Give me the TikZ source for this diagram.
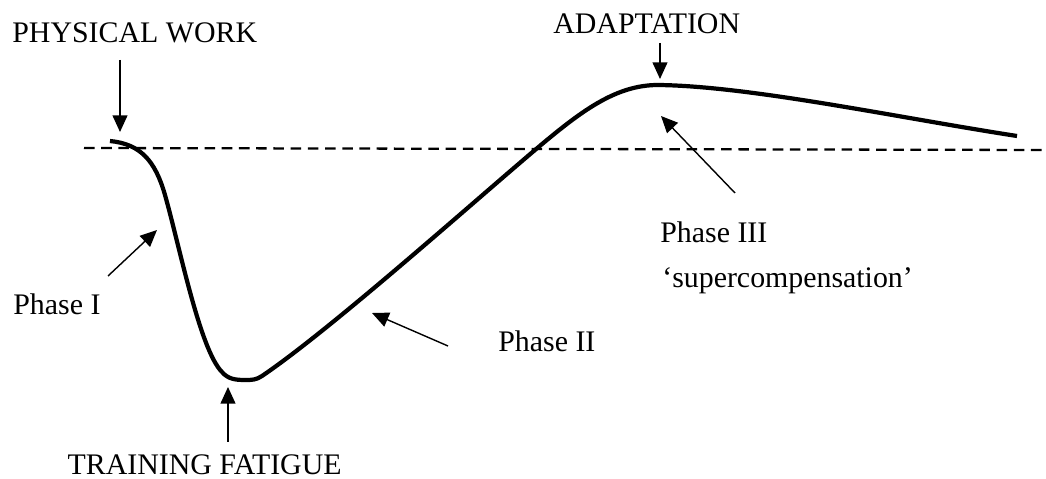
\documentclass[tikz,border=0pt]{standalone}
\usepackage{fontspec}
\setmainfont{Liberation Serif}
\usepackage{tikz}
\usetikzlibrary{arrows.meta, positioning}

\begin{document}
\begin{tikzpicture}[
  x=0.02cm, y=-0.02cm,
  lbl/.style={inner sep=0pt, anchor=base west, font=\fontsize{17}{20}\selectfont},
  pointer/.style={line width=0.8pt, -{Triangle[length=9.5pt, width=8.5pt]}},
  baseline/.style={line width=1.3pt, dash pattern=on 6pt off 3.8pt},
  response/.style={line width=2.4pt, line join=round}
]
  \useasboundingbox (0,0) rectangle (1046,479);

  % reference level
  \coordinate (ref0) at (84,148);
  \coordinate (ref1) at (1046,150);
  \draw[baseline] (ref0) -- (ref1);

  % response curve
  \coordinate (start) at (110,141);
  \coordinate (low) at (245,380);
  \coordinate (cross) at (535,150);
  \coordinate (peak) at (658,85);
  \coordinate (finish) at (1017,136);
  \draw[response] (start) .. controls (140,144) and (155,160) .. (165,195)
    .. controls (180,248) and (200,350) .. (222,372)
    .. controls (228,379) and (235,380) .. (low)
    .. controls (252,380) and (256,380) .. (262,376)
    .. controls (330,330) and (470,205) .. (cross)
    .. controls (580,112) and (615,85) .. (peak)
    .. controls (750,86) and (900,118) .. (finish);

  % labels
  \node[lbl] (work) at (12,43) {PHYSICAL WORK};
  \node[lbl] (adapt) at (553,34) {ADAPTATION};
  \node[lbl, anchor=base east] (fatigue) at (342,475) {TRAINING FATIGUE};
  \node[lbl] (phase1) at (13,315) {Phase I};
  \node[lbl] (phase2) at (498,352) {Phase II};
  \node[lbl] (phase3) at (660,243) {Phase III};
  \node[lbl] (super) at (662,288) {‘supercompensation’};

  % pointers
  \coordinate (w0) at (120,60);   \coordinate (w1) at (120,132);
  \coordinate (a0) at (660,43);   \coordinate (a1) at (660,79);
  \coordinate (f0) at (228,442);  \coordinate (f1) at (228,387);
  \coordinate (p10) at (108,276); \coordinate (p11) at (157,230);
  \coordinate (p20) at (448,346); \coordinate (p21) at (372,313);
  \coordinate (p30) at (735,193); \coordinate (p31) at (661,116);
  \draw[pointer] (w0) -- (w1);
  \draw[pointer] (a0) -- (a1);
  \draw[pointer] (f0) -- (f1);
  \draw[pointer] (p10) -- (p11);
  \draw[pointer] (p20) -- (p21);
  \draw[pointer] (p30) -- (p31);
\end{tikzpicture}
\end{document}
